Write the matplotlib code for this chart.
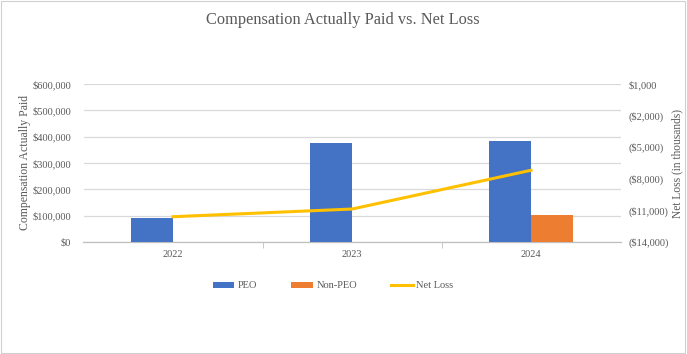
import matplotlib
matplotlib.use("Agg")
import matplotlib.pyplot as plt
import numpy as np
from matplotlib.patches import Rectangle

years = ["2022", "2023", "2024"]
peo = [93000, 377000, 382000]
non_peo = [0, 0, 104000]
net_loss = [-11600, -10870, -7190]
left_ticks = [0, 100000, 200000, 300000, 400000, 500000, 600000]
right_ticks = [-14000, -11000, -8000, -5000, -2000, 1000]

plt.rcParams['font.family'] = ['Liberation Serif', 'DejaVu Serif']
txt = '#595959'

fig = plt.figure(figsize=(6.87, 3.54), dpi=100)
fig.patches.append(Rectangle((0.002, 0.003), 0.995, 0.993, transform=fig.transFigure,
                             fill=False, edgecolor='#d0d0d0', linewidth=0.8))
ax = fig.add_axes([83.5/687, 1 - 242/354, (620.5-83.5)/687, (242-84)/354])
x = np.arange(len(years))
w = 0.235
ax.bar(x - w/2, peo, width=w, color='#4472C4', label='PEO', zorder=3)
ax.bar(x + w/2, non_peo, width=w, color='#ED7D31', label='Non-PEO', zorder=3)
ax.set_xlim(-0.5, 2.5)
ax.set_ylim(0, 600000)
ax.set_yticks(left_ticks)
ax.set_yticklabels(['$0' if v == 0 else '${:,.0f}'.format(v) for v in left_ticks],
                   fontsize=7.5, color=txt)
ax.set_xticks(x)
ax.set_xticklabels(years, fontsize=7.5, color=txt)
ax.tick_params(axis='y', length=0, pad=9)
ax.tick_params(axis='x', length=0, pad=6)
ax.set_xticks([0.5, 1.5], minor=True)
ax.tick_params(axis='x', which='minor', length=4, color='#bfbfbf', direction='out')
ax.grid(axis='y', color='#d9d9d9', linewidth=0.9, zorder=0)
for s in ['top', 'left', 'right']:
    ax.spines[s].set_visible(False)
ax.spines['bottom'].set_color('#bfbfbf')
ax.spines['bottom'].set_linewidth(0.9)
ax.set_ylabel('Compensation Actually Paid', fontsize=8.5, color=txt)
ax.yaxis.set_label_coords((31 - 83.5) / 537, 0.5)

ax2 = ax.twinx()
ax2.plot(x, net_loss, color='#FFC000', linewidth=2.2, label='Net Loss', zorder=4)
ax2.set_ylim(-14000, 1000)
ax2.set_yticks(right_ticks)
ax2.set_yticklabels(['${:,.0f}'.format(v) if v >= 0 else '(${:,.0f})'.format(-v)
                     for v in right_ticks], fontsize=7.5, color=txt)
ax2.tick_params(axis='y', length=0, pad=6)
for s in ['top', 'left', 'right', 'bottom']:
    ax2.spines[s].set_visible(False)
ax2.set_ylabel('Net Loss (in thousands)', fontsize=8.3, color=txt)
ax2.yaxis.set_label_coords((671 - 83.5) / 537, 0.5)

fig.text(343/687, 1 - 20/354, 'Compensation Actually Paid vs. Net Loss',
         ha='center', va='center', fontsize=11.8, color=txt)

h1, l1 = ax.get_legend_handles_labels()
h2, l2 = ax2.get_legend_handles_labels()
fig.legend(h1 + h2, l1 + l2, loc='center', bbox_to_anchor=(333/687, 1 - 286/354),
           ncol=3, frameon=False, fontsize=7.5, labelcolor=txt,
           handlelength=2.1, handleheight=0.45, columnspacing=3.3, handletextpad=0.3)

fig.savefig('out.png', dpi=100)
